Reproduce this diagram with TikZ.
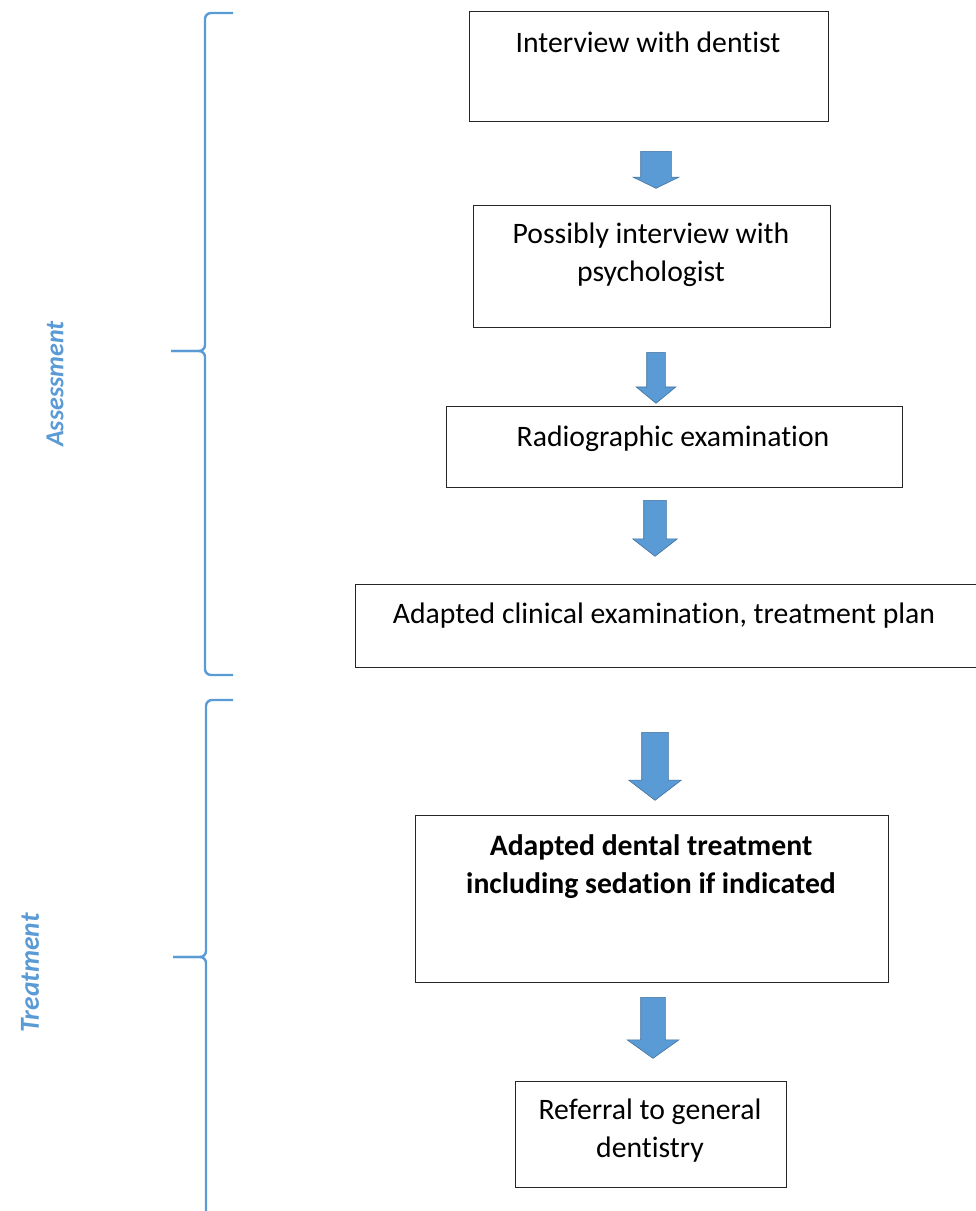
\documentclass[tikz,border=0pt]{standalone}
\usepackage{fontspec}
\setmainfont[Ligatures={NoCommon}]{Carlito}
\usetikzlibrary{shapes.arrows,positioning}
\definecolor{wordblue}{RGB}{91,155,213}
\definecolor{wordedge}{RGB}{65,113,156}
\tikzset{every picture/.style={line width=0.75pt}}
\tikzset{
  box/.style={draw=black!85, line width=1.4pt, rectangle, inner sep=0pt, anchor=north west},
  txt/.style={inner sep=0pt, align=center, font=\fontsize{29.7}{38}\selectfont},
  downarrow/.style={single arrow, draw=wordedge, fill=wordblue, line width=0.6pt, rotate=-90,
    anchor=tail, inner xsep=0pt, single arrow head indent=0pt},
  brace/.style={draw=wordblue, line width=2.4pt, rounded corners=6pt},
  side/.style={text=wordblue, font=\fontsize{26}{30}\selectfont\bfseries\itshape, rotate=90, inner sep=0pt}
}

\begin{document}
\begin{tikzpicture}[x=1pt,y=1pt,yscale=-1,xscale=1]
\useasboundingbox (0,0) rectangle (976,1211);
\clip (0,0) rectangle (976,1211);

%Shape: Rectangle
\node[box, minimum width=359pt, minimum height=110pt] (dentist) at (469,11) {};
%Shape: Rectangle
\node[box, minimum width=357pt, minimum height=122pt] (psych) at (473,205) {};
%Shape: Rectangle
\node[box, minimum width=456pt, minimum height=81pt] (radio) at (446,406) {};
%Shape: Rectangle
\node[box, minimum width=660pt, minimum height=83pt] (clinical) at (355,584) {};
%Shape: Rectangle
\node[box, minimum width=473pt, minimum height=167pt] (treat) at (415,815) {};
%Shape: Rectangle
\node[box, minimum width=271pt, minimum height=106pt] (referral) at (515,1081) {};

%Shape: Down Arrow
\node[downarrow, inner ysep=15pt, minimum height=37pt, minimum width=45pt, single arrow head extend=7.5pt, single arrow tip angle=128] (arr1) at (656,151) {};
%Shape: Down Arrow
\node[downarrow, inner ysep=9pt, minimum height=51pt, minimum width=39pt, single arrow head extend=10.5pt, single arrow tip angle=101] (arr2) at (656,352) {};
%Shape: Down Arrow
\node[downarrow, inner ysep=11pt, minimum height=56pt, minimum width=44pt, single arrow head extend=11pt, single arrow tip angle=104] (arr3) at (655,500) {};
%Shape: Down Arrow
\node[downarrow, inner ysep=13pt, minimum height=68pt, minimum width=52pt, single arrow head extend=13pt, single arrow tip angle=105] (arr4) at (655,732) {};
%Shape: Down Arrow
\node[downarrow, inner ysep=12pt, minimum height=61pt, minimum width=51pt, single arrow head extend=13.5pt, single arrow tip angle=109] (arr5) at (653,997) {};

%Shape: Brace
\draw[brace] (233,13) -- (205,13) -- (205,351) -- (171,351) ;
\draw[brace] (171,351) -- (205,351) -- (205,675) -- (233,675) ;
%Shape: Brace
\draw[brace] (233,700) -- (206,700) -- (206,957) -- (173,957) ;
\draw[brace] (173,957) -- (206,957) -- (206,1240) ;

% Text Node
\node[txt, anchor=base] (dentistTxt) at (648,52) {Interview with dentist};
% Text Node
\node[txt] (psychTxt) at (651,255) {Possibly interview with\\psychologist};
% Text Node
\node[txt, anchor=base] (radioTxt) at (673,446) {Radiographic examination};
% Text Node
\node[txt, anchor=base] (clinicalTxt) at (664,623) {Adapted clinical examination, treatment plan};
% Text Node
\node[txt, font=\fontsize{29.7}{38}\selectfont\bfseries] (treatTxt) at (651,867) {Adapted dental treatment\\including sedation if indicated};
% Text Node
\node[txt] (referralTxt) at (650,1131) {Referral to general\\dentistry};
% Text Node
\node[side] (assessLbl) at (55,384) {Assessment};
% Text Node
\node[side, font=\fontsize{27.5}{30}\selectfont\bfseries\itshape] (treatLbl) at (30,973) {Treatment};

\end{tikzpicture}
\end{document}
